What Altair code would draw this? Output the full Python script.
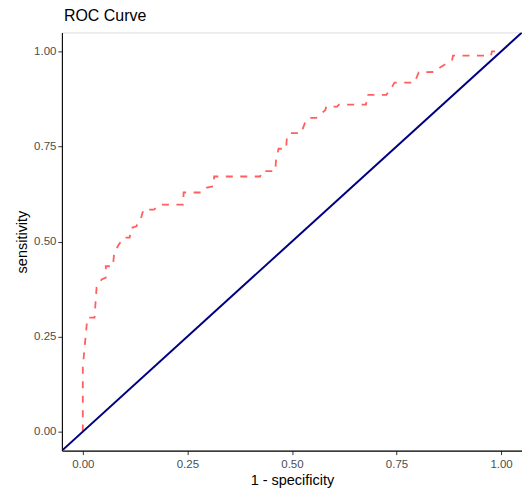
import altair as alt
import pandas as pd

# ROC curve vertices (1 - specificity, sensitivity)
fpr = [0.000, 0.000, 0.010, 0.012, 0.028, 0.033, 0.045, 0.055, 0.055, 0.072,
       0.075, 0.085, 0.097, 0.112, 0.115, 0.128, 0.140, 0.145, 0.170, 0.185,
       0.240, 0.241, 0.285, 0.297, 0.312, 0.314, 0.424, 0.428, 0.460, 0.462,
       0.468, 0.486, 0.488, 0.495, 0.522, 0.531, 0.540, 0.558, 0.580, 0.582,
       0.608, 0.612, 0.677, 0.680, 0.726, 0.741, 0.745, 0.793, 0.803, 0.840,
       0.857, 0.883, 0.885, 0.976, 0.978, 1.000]
tpr = [0.000, 0.170, 0.290, 0.300, 0.300, 0.380, 0.400, 0.405, 0.435, 0.435,
       0.470, 0.490, 0.510, 0.510, 0.535, 0.540, 0.565, 0.584, 0.584, 0.597,
       0.597, 0.629, 0.629, 0.642, 0.645, 0.671, 0.671, 0.685, 0.685, 0.715,
       0.744, 0.744, 0.775, 0.785, 0.785, 0.812, 0.825, 0.825, 0.846, 0.855,
       0.855, 0.860, 0.860, 0.886, 0.886, 0.910, 0.918, 0.918, 0.945, 0.946,
       0.960, 0.978, 0.989, 0.989, 1.000, 1.000]

diag_x = [-0.05, 1.05]
diag_y = [-0.05, 1.05]

ticks = [0.0, 0.25, 0.5, 0.75, 1.0]

roc = pd.DataFrame({"fpr": fpr, "tpr": tpr, "order": list(range(len(fpr)))})
diag = pd.DataFrame({"fpr": diag_x, "tpr": diag_y})

FONT = "Liberation Sans"

xscale = alt.Scale(domain=[-0.05, 1.05], nice=False, zero=False)
yscale = alt.Scale(domain=[-0.05, 1.05], nice=False, zero=False)

xaxis = alt.Axis(values=ticks, format=".2f", title="1 - specificity", grid=False,
                 domainColor="#000000", domainWidth=1.1, tickColor="#333333",
                 tickSize=4, labelPadding=4, labelFontSize=11.5, labelColor="#4D4D4D",
                 labelFont=FONT, titleFont=FONT, titleFontSize=14.5,
                 titleFontWeight="normal", titleColor="#000000", titlePadding=3)
yaxis = alt.Axis(values=ticks, format=".2f", title="sensitivity", grid=False,
                 domainColor="#000000", domainWidth=1.1, tickColor="#333333",
                 tickSize=4, labelPadding=2, labelFontSize=11.5, labelColor="#4D4D4D",
                 labelFont=FONT, titleFont=FONT, titleFontSize=14.5,
                 titleFontWeight="normal", titleColor="#000000", titlePadding=4)

curve = alt.Chart(roc).mark_line(
    color="#FF5F5F", strokeWidth=1.8, strokeDash=[7, 7.5], clip=True
).encode(
    x=alt.X("fpr:Q", scale=xscale, axis=xaxis),
    y=alt.Y("tpr:Q", scale=yscale, axis=yaxis),
    order="order:Q",
)

line = alt.Chart(diag).mark_line(color="#000080", strokeWidth=2, clip=True).encode(
    x=alt.X("fpr:Q", scale=xscale),
    y=alt.Y("tpr:Q", scale=yscale),
)

chart = alt.layer(curve, line).properties(
    width=461,
    height=419,
    autosize=alt.AutoSizeParams(type="none"),
    padding={"left": 54, "top": 24, "right": 0, "bottom": 45},
    title=alt.TitleParams("ROC Curve", anchor="start", frame="group", font=FONT,
                          fontSize=16, fontWeight="normal", color="#000000",
                          offset=8, dx=2),
).configure_view(stroke=None).configure(background="white")

chart.save("out.html", embed_options={"renderer": "svg", "actions": False})
